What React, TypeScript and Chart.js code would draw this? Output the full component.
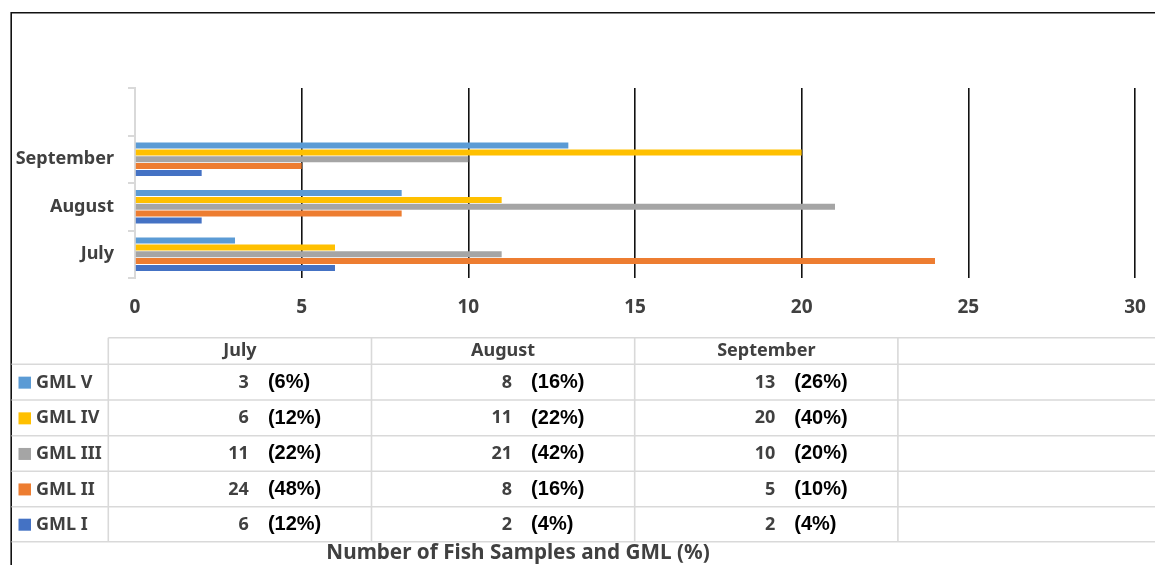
import React, { useEffect, useRef } from "react";
import { Chart, registerables } from "chart.js";

Chart.register(...registerables);

// ---- Data ----
const months = ["July", "August", "September"];
const seriesNames = ["GML V", "GML IV", "GML III", "GML II", "GML I"];
const gmlV = [3, 8, 13];
const gmlIV = [6, 11, 20];
const gmlIII = [11, 21, 10];
const gmlII = [24, 8, 5];
const gmlI = [6, 2, 2];
const gmlVPct = [6, 16, 26];
const gmlIVPct = [12, 22, 40];
const gmlIIIPct = [22, 42, 20];
const gmlIIPct = [48, 16, 10];
const gmlIPct = [12, 4, 4];
const xTicks = [0, 5, 10, 15, 20, 25, 30];
const axisTitle = "Number of Fish Samples and GML (%)";

const seriesValues = [gmlV, gmlIV, gmlIII, gmlII, gmlI];
const seriesPct = [gmlVPct, gmlIVPct, gmlIIIPct, gmlIIPct, gmlIPct];
const seriesColors = ["#5B9BD5", "#FFC000", "#A5A5A5", "#ED7D31", "#4472C4"];

const FONT = "'Noto Sans', 'Open Sans', sans-serif";
const PCT_FONT = "'Liberation Sans', Arial, sans-serif";
const GRAY_TEXT = "#404040";

// Category axis top-to-bottom: empty slot, then months reversed (July at bottom)
const yLabels = ["", ...months.slice().reverse()];

const tablePlugin = {
  id: "dataTable",
  afterDraw(chart: any) {
    const ctx = chart.ctx as CanvasRenderingContext2D;
    const W = chart.width;
    const H = chart.height;
    ctx.save();

    // outer frame
    ctx.strokeStyle = "#111";
    ctx.lineWidth = 1.6;
    ctx.beginPath();
    ctx.moveTo(11.2, H + 2);
    ctx.lineTo(11.2, 12.8);
    ctx.lineTo(W + 2, 12.8);
    ctx.stroke();

    // table geometry
    const left = 11.5;
    const firstColLeft = 108.3;
    const colW = 263.2;
    const headerTop = 337.7;
    const rowTops = [364.3, 400, 435.7, 471.2, 506.7, 541.7];
    const nCols = 4;

    ctx.strokeStyle = "#D9D9D9";
    ctx.lineWidth = 1.6;
    ctx.beginPath();
    ctx.moveTo(firstColLeft, headerTop);
    ctx.lineTo(W, headerTop);
    rowTops.forEach((y) => {
      ctx.moveTo(left, y);
      ctx.lineTo(W, y);
    });
    for (let c = 0; c < nCols; c++) {
      const x = firstColLeft + c * colW;
      ctx.moveTo(x, headerTop);
      ctx.lineTo(x, rowTops[rowTops.length - 1]);
    }
    ctx.stroke();

    // header
    ctx.textBaseline = "middle";
    ctx.fillStyle = GRAY_TEXT;
    ctx.font = `bold 18px ${FONT}`;
    ctx.textAlign = "center";
    months.forEach((m, i) => {
      ctx.fillText(m, firstColLeft + colW * (i + 0.5), (headerTop + rowTops[0]) / 2);
    });

    // rows
    seriesNames.forEach((name, r) => {
      const yc = (rowTops[r] + rowTops[r + 1]) / 2 + 0.5;
      ctx.fillStyle = seriesColors[r];
      ctx.fillRect(18.5, yc - 6, 12.5, 12);
      ctx.fillStyle = GRAY_TEXT;
      ctx.font = `bold 18px ${FONT}`;
      ctx.textAlign = "left";
      ctx.fillText(name, 36, yc);
      months.forEach((_, i) => {
        const cx = firstColLeft + colW * (i + 0.5);
        ctx.fillStyle = GRAY_TEXT;
        ctx.font = `bold 18px ${FONT}`;
        ctx.textAlign = "right";
        ctx.fillText(String(seriesValues[r][i]), cx + 9, yc);
        ctx.fillStyle = "#000";
        ctx.font = `bold 20px ${PCT_FONT}`;
        ctx.textAlign = "left";
        ctx.fillText(`(${seriesPct[r][i]}%)`, cx + 28, yc);
      });
    });

    // axis title
    ctx.fillStyle = GRAY_TEXT;
    ctx.font = `bold 20.7px ${FONT}`;
    ctx.textAlign = "center";
    ctx.fillText(axisTitle, 518, 553);

    ctx.restore();
  },
};

export default function App() {
  const ref = useRef<HTMLCanvasElement | null>(null);

  useEffect(() => {
    let chart: Chart | null = null;
    let cancelled = false;

    const build = () => {
      if (cancelled || !ref.current) return;
      const datasets = seriesNames.map((name, i) => ({
        label: name,
        data: [null, ...seriesValues[i].slice().reverse()],
        backgroundColor: seriesColors[i],
        borderWidth: 0,
        barPercentage: 0.88,
        categoryPercentage: 0.72,
      }));

      chart = new Chart(ref.current, {
        type: "bar",
        data: { labels: yLabels, datasets: datasets as any },
        options: {
          indexAxis: "y",
          responsive: false,
          animation: false,
          devicePixelRatio: 1,
          layout: { padding: { top: 88, left: 0, right: 20, bottom: 247 } },
          plugins: {
            legend: { display: false },
            tooltip: { enabled: false },
            title: { display: false },
          },
          scales: {
            x: {
              type: "linear",
              min: xTicks[0],
              max: xTicks[xTicks.length - 1],
              afterBuildTicks: (scale: any) => {
                scale.ticks = xTicks.map((v) => ({ value: v }));
              },
              afterFit: (scale: any) => {
                scale.height = 40;
                scale.paddingLeft = 0;
                scale.paddingRight = 0;
              },
              border: { display: false },
              grid: {
                drawTicks: false,
                lineWidth: 1.6,
                color: (c: any) => (c.index === 0 ? "rgba(0,0,0,0)" : "#111"),
              },
              ticks: {
                padding: 18,
                color: GRAY_TEXT,
                font: { family: FONT, size: 19, weight: "bold" },
              },
            },
            y: {
              type: "category",
              offset: true,
              afterFit: (scale: any) => {
                scale.width = 135;
                scale.paddingTop = 0;
                scale.paddingBottom = 0;
              },
              border: { display: true, color: "#D9D9D9", width: 2 },
              grid: {
                offset: true,
                drawOnChartArea: false,
                drawTicks: true,
                tickLength: 7,
                color: "#D9D9D9",
                lineWidth: 2,
              },
              ticks: {
                padding: 14,
                color: GRAY_TEXT,
                font: { family: FONT, size: 18, weight: "bold" },
              },
            },
          },
        },
        plugins: [tablePlugin],
      });
    };

    const fontsApi = (document as any).fonts;
    if (fontsApi && fontsApi.load) {
      Promise.all([
        fontsApi.load(`bold 18px 'Noto Sans'`),
        fontsApi.load(`bold 20px 'Liberation Sans'`),
      ])
        .catch(() => undefined)
        .then(build);
    } else {
      build();
    }

    return () => {
      cancelled = true;
      if (chart) chart.destroy();
    };
  }, []);

  return (
    <div style={{ position: "fixed", left: 0, top: 0, width: 1155, height: 565, background: "#fff" }}>
      <canvas ref={ref} width={1155} height={565} style={{ display: "block" }} />
    </div>
  );
}
